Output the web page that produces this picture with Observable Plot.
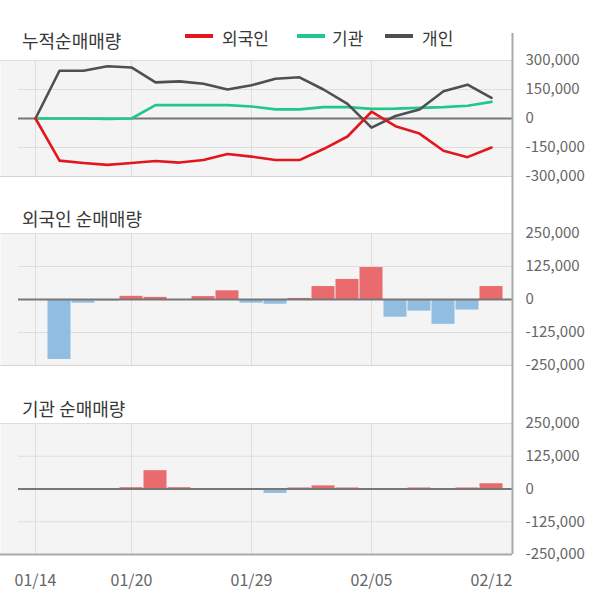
<!DOCTYPE html>
<html><head><meta charset="utf-8">
<script src="https://cdn.jsdelivr.net/npm/d3@7"></script>
<script src="https://cdn.jsdelivr.net/npm/@observablehq/plot@0.6"></script>
<style>
body{margin:0;background:#fff;font-family:"Noto Sans CJK KR","Noto Sans",sans-serif;}
#wrap{position:relative;width:600px;height:604px;overflow:hidden;background:#fff;}
.title{position:absolute;left:22px;font-size:18px;color:#383838;line-height:18px;white-space:nowrap;}
.panel{position:absolute;left:0;}
.leg{position:absolute;font-size:17px;color:#383838;line-height:17px;white-space:nowrap;}
.sw{position:absolute;height:4px;}
</style></head>
<body>
<div id="wrap"></div>
<script>
// ---- data ----
const dates = ["01/14","01/15","01/16","01/17","01/20","01/21","01/22","01/23","01/28","01/29","01/30","01/31","02/03","02/04","02/05","02/06","02/07","02/10","02/11","02/12"];
const tickDates = ["01/14","01/20","01/29","02/05","02/12"];
const gridDates = ["01/14","01/20","01/29","02/05"];
const cumForeign = [0,-218000,-230000,-240000,-230000,-220000,-228000,-215000,-184000,-197000,-215000,-215000,-158000,-93000,35000,-40000,-78000,-167000,-200000,-150000];
const cumInst = [0,0,0,-2000,0,69000,69000,69000,69000,62000,47000,47000,59000,59000,50000,51000,55000,59000,66000,86000];
const cumIndiv = [0,247000,247000,270000,264000,187000,192000,180000,150000,172000,206000,213000,150000,76000,-47000,13000,47000,141000,175000,107000];
const netForeign = [0,-227000,-14000,-6000,12000,8000,0,11000,33000,-14000,-18000,4000,49000,76000,121000,-67000,-44000,-94000,-40000,49000];
const netInst = [0,0,0,0,5000,70000,5000,0,0,0,-17000,4000,12000,4000,0,0,4000,0,4000,20000];
const cumTicks = [300000,150000,0,-150000,-300000];
const netTicks = [250000,125000,0,-125000,-250000];
const seriesNames = ["외국인","기관","개인"];
const titles = ["누적순매매량","외국인 순매매량","기관 순매매량"];

// ---- styling ----
const C = {foreign:"#e3161d", inst:"#22c78b", indiv:"#4f4f4f", up:"#ea6b6d", down:"#90bde0",
  bg:"#f4f4f4", grid:"#dedede", zero:"#777777", axis:"#a9a9a9", text:"#666"};
const FONT = "'Noto Sans CJK KR','Noto Sans',sans-serif";
const xLo = -35/24, xHi = 477/24;
const fmt = d => d.toLocaleString("en-US");
const rows = dates.map((d,i)=>({i, date:d, cumForeign:cumForeign[i], cumInst:cumInst[i], cumIndiv:cumIndiv[i], netForeign:netForeign[i], netInst:netInst[i]}));
const gridIdx = gridDates.map(d=>dates.indexOf(d));
const tickIdx = tickDates.map(d=>dates.indexOf(d));

function panel({height, marginTop, marginBottom, ticks, marks, xAxis, extTop, extBottom, bottomBorder}){
  const ymax = d3.max(ticks), ymin = d3.min(ticks);
  const inner = ticks.filter(t=>t!==ymax && t!==ymin && t!==0);
  const m = [
    Plot.frame({fill:C.bg, stroke:null}),
    Plot.ruleY(inner, {stroke:C.grid, strokeWidth:1, insetLeft:18}),
    Plot.ruleY([ymax], {stroke:C.grid, strokeWidth:1}),
    Plot.ruleX(gridIdx, {stroke:C.grid, strokeWidth:1}),
    ...marks,
    Plot.ruleY([ymin], {stroke: bottomBorder ? C.axis : "#d4d4d4", strokeWidth: bottomBorder ? 2 : 1}),
    Plot.ruleX([xHi], {stroke:C.axis, strokeWidth:2, insetTop:-extTop, insetBottom:-extBottom}),
    Plot.axisY(ticks, {anchor:"right", tickSize:0, tickPadding:13, tickFormat:fmt, label:null, fill:C.text, fontSize:15})
  ];
  if (xAxis) m.push(Plot.axisX(tickIdx, {anchor:"bottom", tickSize:0, tickPadding:20, tickFormat:i=>dates[i], label:null, fill:C.text, fontSize:16}));
  return Plot.plot({
    width:600, height, marginLeft:0, marginRight:88, marginTop, marginBottom,
    x:{type:"linear", domain:[xLo,xHi], axis:null},
    y:{domain:[ymin,ymax], axis:null},
    style:{fontFamily:FONT, fontSize:"15px", color:C.text, background:"transparent", overflow:"visible"},
    marks:m
  });
}

const wrap = document.getElementById("wrap");
function place(el, top){ el.classList.add("panel"); el.style.top = top+"px"; wrap.appendChild(el); }

const p1 = panel({height:170, marginTop:30, marginBottom:24, ticks:cumTicks, extTop:27, extBottom:24,
  marks:[
    Plot.ruleY([0], {stroke:C.zero, strokeWidth:2, insetLeft:18}),
    Plot.lineY(rows, {x:"i", y:"cumInst", stroke:C.inst, strokeWidth:2.6}),
    Plot.lineY(rows, {x:"i", y:"cumIndiv", stroke:C.indiv, strokeWidth:2.6}),
    Plot.lineY(rows, {x:"i", y:"cumForeign", stroke:C.foreign, strokeWidth:2.6})
  ]});
place(p1, 30);

function bars(key){
  return Plot.rectY(rows, {x1:d=>d.i-0.5, x2:d=>d.i+0.5, y:key, fill:d=>d[key]>=0?C.up:C.down, insetLeft:0.5, insetRight:0.5});
}
const p2 = panel({height:190, marginTop:33, marginBottom:25, ticks:netTicks, extTop:33, extBottom:25,
  marks:[bars("netForeign"), Plot.ruleY([0], {stroke:C.zero, strokeWidth:2, insetLeft:18})]});
place(p2, 200);

const p3 = panel({height:214, marginTop:33, marginBottom:50, ticks:netTicks, extTop:33, extBottom:0, xAxis:true, bottomBorder:true,
  marks:[bars("netInst"), Plot.ruleY([0], {stroke:C.zero, strokeWidth:2, insetLeft:18})]});
place(p3, 390);

// titles
[[titles[0],31],[titles[1],209],[titles[2],399]].forEach(([t,top])=>{
  const d=document.createElement("div"); d.className="title"; d.textContent=t; d.style.top=top+"px"; wrap.appendChild(d);
});
// legend
const legCols=[C.foreign,C.inst,C.indiv];
const swX=[185,297,385], txX=[222,332,422];
seriesNames.forEach((n,k)=>{
  const s=document.createElement("div"); s.className="sw"; s.style.left=swX[k]+"px"; s.style.width="28px"; s.style.top="34px"; s.style.background=legCols[k]; wrap.appendChild(s);
  const t=document.createElement("div"); t.className="leg"; t.textContent=n; t.style.left=txX[k]+"px"; t.style.top="29px"; wrap.appendChild(t);
});
</script>
</body></html>
